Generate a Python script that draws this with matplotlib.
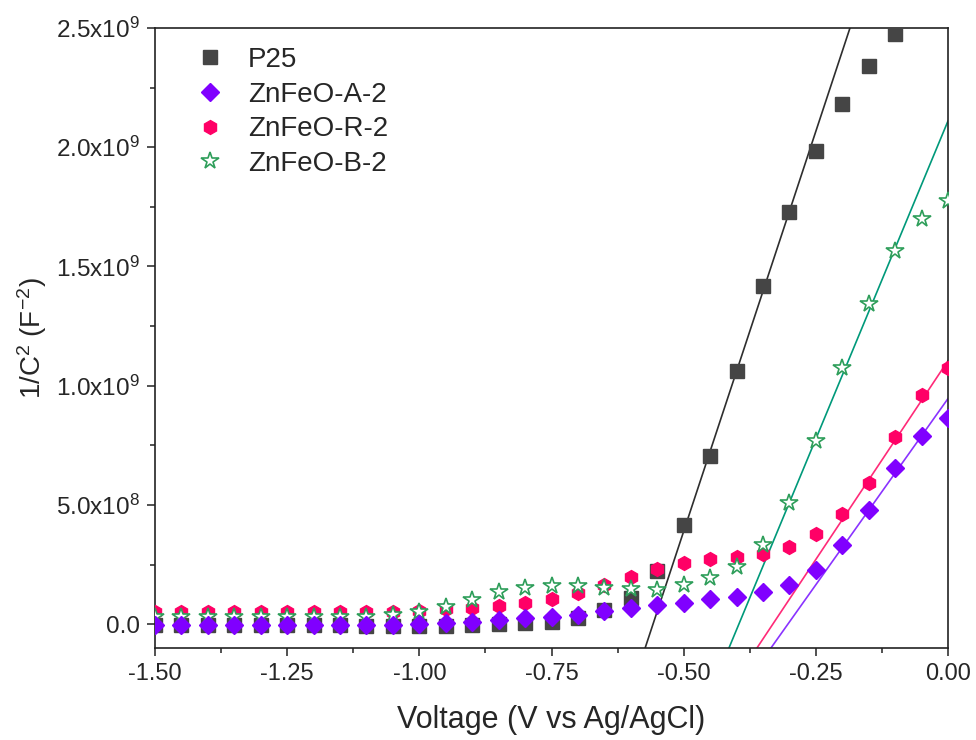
import numpy as np
import matplotlib
matplotlib.use("Agg")
import matplotlib.pyplot as plt
from matplotlib.ticker import FixedLocator, FuncFormatter

plt.rcParams['font.family'] = ['Liberation Sans', 'DejaVu Sans']
plt.rcParams['mathtext.fontset'] = 'custom'
plt.rcParams['mathtext.rm'] = 'Liberation Sans'
plt.rcParams['mathtext.it'] = 'Liberation Sans:italic'
plt.rcParams['mathtext.bf'] = 'Liberation Sans:bold'

# Mott-Schottky data: applied potential (V vs Ag/AgCl) and 1/C^2 in units of 1e9 F^-2
voltage = [-1.50, -1.45, -1.40, -1.35, -1.30, -1.25, -1.20, -1.15, -1.10, -1.05,
           -1.00, -0.95, -0.90, -0.85, -0.80, -0.75, -0.70, -0.65, -0.60, -0.55,
           -0.50, -0.45, -0.40, -0.35, -0.30, -0.25, -0.20, -0.15, -0.10, -0.05, 0.00]

p25 = [-0.005, -0.005, -0.005, -0.005, -0.005, -0.005, -0.005, -0.005, -0.006, -0.007,
       -0.008, -0.008, -0.004, 0.000, 0.004, 0.010, 0.025, 0.060, 0.110, 0.225,
       0.415, 0.705, 1.060, 1.420, 1.730, 1.985, 2.180, 2.340, 2.475, np.nan, np.nan]

znfeo_a2 = [-0.005, -0.005, -0.005, -0.005, -0.005, -0.005, -0.005, -0.005, -0.005, -0.004,
            0.000, 0.004, 0.010, 0.017, 0.025, 0.031, 0.038, 0.056, 0.067, 0.080,
            0.088, 0.105, 0.113, 0.134, 0.163, 0.226, 0.331, 0.480, 0.653, 0.790, 0.863]

znfeo_r2 = [0.050, 0.050, 0.050, 0.050, 0.050, 0.050, 0.050, 0.050, 0.050, 0.052,
            0.057, 0.062, 0.066, 0.075, 0.089, 0.105, 0.130, 0.163, 0.198, 0.233,
            0.256, 0.272, 0.280, 0.295, 0.323, 0.380, 0.463, 0.593, 0.785, 0.960, 1.075]

znfeo_b2 = [0.030, 0.030, 0.030, 0.030, 0.030, 0.030, 0.030, 0.030, 0.030, 0.040,
            0.050, 0.073, 0.102, 0.133, 0.150, 0.160, 0.160, 0.152, 0.148, 0.145,
            0.163, 0.192, 0.240, 0.330, 0.506, 0.770, 1.076, 1.344, 1.566, 1.700, 1.776]

labels = ['P25', 'ZnFeO-A-2', 'ZnFeO-R-2', 'ZnFeO-B-2']

# Linear fits of the depletion region: slope (1e9 F^-2 per V) and flat-band intercept (V)
fit_slope = [6.71, 3.123, 3.334, 5.334]
fit_intercept = [-0.558, -0.3029, -0.3314, -0.3956]

marker_colors = ['#454545', '#8000FF', '#FF0066', '#2E9E5A']
line_colors = ['#2E2E2E', '#8A33FF', '#FF2A78', '#00997A']

scale = 1e9
fig = plt.figure(figsize=(9.76, 7.40), dpi=100)
ax = fig.add_axes([155 / 976, 1 - 648 / 740, 793 / 976, 620 / 740])

v = np.array(voltage)

# fitted lines first, markers on top
for slope, v0, lc in zip(fit_slope, fit_intercept, line_colors):
    xs = np.array([v0 - 0.2 / slope, 0.0])
    ax.plot(xs, slope * (xs - v0) * scale, color=lc, lw=1.2, zorder=2)

ax.plot(v, np.array(p25) * scale, ls='none', marker='s', ms=10,
        color=marker_colors[0], mec=marker_colors[0], label=labels[0], zorder=3)
ax.plot(v, np.array(znfeo_r2) * scale, ls='none', marker='h', ms=10,
        color=marker_colors[2], mec=marker_colors[2], label=labels[2], zorder=4)
ax.plot(v, np.array(znfeo_b2) * scale, ls='none', marker='*', ms=13,
        mfc='white', mec=marker_colors[3], mew=1.2, label=labels[3], zorder=5)
ax.plot(v, np.array(znfeo_a2) * scale, ls='none', marker='D', ms=9.5,
        color=marker_colors[1], mec=marker_colors[1], label=labels[1], zorder=6)

ax.set_xlim(-1.5, 0.0)
ax.set_ylim(-0.1e9, 2.5e9)

text_color = '#262626'
ax.xaxis.set_major_locator(FixedLocator([-1.5, -1.25, -1.0, -0.75, -0.5, -0.25, 0.0]))
ax.xaxis.set_minor_locator(FixedLocator([-1.375, -1.125, -0.875, -0.625, -0.375, -0.125]))
ax.xaxis.set_major_formatter(FuncFormatter(lambda x, p: f"{x:.2f}"))
ax.yaxis.set_major_locator(FixedLocator([0, 0.5e9, 1.0e9, 1.5e9, 2.0e9, 2.5e9]))
ax.yaxis.set_minor_locator(FixedLocator([0.25e9, 0.75e9, 1.25e9, 1.75e9, 2.25e9]))


def sci_fmt(y, pos):
    if abs(y) < 1:
        return "0.0"
    exp = int(np.floor(np.log10(abs(y))))
    mant = y / 10 ** exp
    return f"{mant:.1f}x10$^{{{exp}}}$"


ax.yaxis.set_major_formatter(FuncFormatter(sci_fmt))

ax.tick_params(which='both', direction='out', top=False, right=False,
               colors='#222222', labelcolor=text_color, width=1.1)
ax.tick_params(which='major', length=6, labelsize=17, pad=5)
ax.tick_params(axis='y', which='major', labelsize=17.5)
ax.tick_params(which='minor', length=3.5)
for sp in ax.spines.values():
    sp.set_linewidth(1.2)
    sp.set_color('#222222')

ax.set_xlabel('Voltage (V vs Ag/AgCl)', fontsize=22, color=text_color, labelpad=14)
ax.set_ylabel('1/C$^{2}$ (F$^{-2}$)', fontsize=20, color=text_color, labelpad=5)

handles, labs = ax.get_legend_handles_labels()
order = [labs.index(l) for l in labels]
leg = ax.legend([handles[i] for i in order], [labs[i] for i in order],
                loc='upper left', bbox_to_anchor=(0.045, 0.978), frameon=False,
                fontsize=20, handlelength=1.0, handletextpad=0.85,
                labelspacing=0.31, borderpad=0.2, borderaxespad=0)
for t in leg.get_texts():
    t.set_color(text_color)

fig.savefig('out.png', dpi=100)
